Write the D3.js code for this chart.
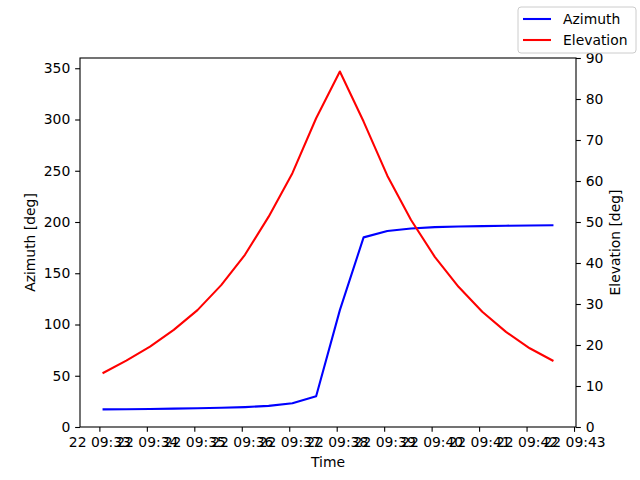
<!DOCTYPE html>
<html>
<head>
<meta charset="utf-8">
<script src="https://cdn.jsdelivr.net/npm/d3@7"></script>
<style>
body { margin: 0; background: #fff; }
text { font-family: "DejaVu Sans", sans-serif; }
</style>
</head>
<body>
<div id="chart"></div>
<script>
// pass times (UTC), one sample every 30 s
var times = ["09:33:04", "09:33:34", "09:34:04", "09:34:34", "09:35:04",
    "09:35:34", "09:36:04", "09:36:34", "09:37:04", "09:37:34",
    "09:38:04", "09:38:34", "09:39:04", "09:39:34", "09:40:04",
    "09:40:34", "09:41:04", "09:41:34", "09:42:04", "09:42:34"];
var azimuth = [17.2, 17.4, 17.6, 17.9, 18.3, 18.7, 19.4, 20.6, 23.2, 30.0,
    114, 185, 191.3, 193.7, 195, 195.6, 196, 196.4, 196.6, 196.8];
var elevation = [13.1, 16.2, 19.6, 23.7, 28.5, 34.6, 42.0, 51.3, 61.9, 75.3,
    86.7, 74.5, 61.3, 50.5, 41.5, 34.2, 28.1, 23.2, 19.2, 16.1];
var azTicks = [0, 50, 100, 150, 200, 250, 300, 350];
var elTicks = [0, 10, 20, 30, 40, 50, 60, 70, 80, 90];
var seriesNames = ["Azimuth", "Elevation"];
var seriesColors = ["#0000ff", "#ff0000"];

var svgWidth = 640;
var svgHeight = 480;
var margin = { top: 58, right: 64, bottom: 53, left: 80 };
var width = svgWidth - margin.left - margin.right;
var height = svgHeight - margin.top - margin.bottom;
var fs = "13.9px";
var lw = 2.08;

var parseT = d3.utcParse("%Y-%m-%d %H:%M:%S");
var data = times.map(function (t, i) {
    return { t: parseT("2024-01-22 " + t), az: azimuth[i], el: elevation[i] };
});

var svg = d3.select("#chart")
    .append("svg")
    .attr("width", svgWidth)
    .attr("height", svgHeight);

var chartGroup = svg.append("g")
    .attr("transform", `translate(${margin.left}, ${margin.top})`);

// 5% padding on x like matplotlib
var tExt = d3.extent(data, d => d.t);
var pad = (tExt[1] - tExt[0]) * 0.05;
var xScale = d3.scaleUtc()
    .domain([new Date(+tExt[0] - pad), new Date(+tExt[1] + pad)])
    .range([0, width]);

var yAz = d3.scaleLinear().domain([0, 360]).range([height, 0]);
var yEl = d3.scaleLinear().domain([0, 90]).range([height, 0]);

var tickLen = 4.86;
var tickPad = 4.86;

var bottomAxis = d3.axisBottom(xScale)
    .ticks(d3.utcMinute.every(1))
    .tickFormat(d3.utcFormat("%d %H:%M"))
    .tickSizeInner(tickLen).tickSizeOuter(0).tickPadding(tickPad);
var leftAxis = d3.axisLeft(yAz).tickValues(azTicks)
    .tickSizeInner(tickLen).tickSizeOuter(0).tickPadding(tickPad);
var rightAxis = d3.axisRight(yEl).tickValues(elTicks)
    .tickSizeInner(tickLen).tickSizeOuter(0).tickPadding(tickPad);

function styleAxis(g) {
    g.selectAll("text").style("font-size", fs).attr("fill", "#000");
    g.selectAll("line").attr("stroke", "#000").attr("stroke-width", 1.1);
    g.select(".domain").remove();
    g.attr("font-family", null);
}

chartGroup.append("g")
    .attr("transform", `translate(0, ${height})`)
    .call(bottomAxis)
    .call(styleAxis);
chartGroup.append("g").call(leftAxis).call(styleAxis);
chartGroup.append("g")
    .attr("transform", `translate(${width}, 0)`)
    .call(rightAxis).call(styleAxis);

// lines
var azLine = d3.line().x(d => xScale(d.t)).y(d => yAz(d.az));
var elLine = d3.line().x(d => xScale(d.t)).y(d => yEl(d.el));

chartGroup.append("path")
    .datum(data)
    .attr("d", azLine)
    .attr("fill", "none")
    .attr("stroke", seriesColors[0])
    .attr("stroke-width", lw)
    .attr("stroke-linejoin", "round");

chartGroup.append("path")
    .datum(data)
    .attr("d", elLine)
    .attr("fill", "none")
    .attr("stroke", seriesColors[1])
    .attr("stroke-width", lw)
    .attr("stroke-linejoin", "round");

// frame
chartGroup.append("rect")
    .attr("width", width)
    .attr("height", height)
    .attr("fill", "none")
    .attr("stroke", "#000")
    .attr("stroke-width", 1.1);

// axis labels
chartGroup.append("text")
    .attr("transform", `translate(${width / 2}, ${height + 40})`)
    .style("font-size", fs)
    .style("text-anchor", "middle")
    .text("Time");

chartGroup.append("text")
    .attr("transform", `translate(${-50}, ${height / 2}) rotate(-90)`)
    .style("font-size", fs)
    .style("text-anchor", "middle")
    .attr("dy", "0.35em")
    .text("Azimuth [deg]");

chartGroup.append("text")
    .attr("transform", `translate(${width + 39}, ${height / 2}) rotate(-90)`)
    .style("font-size", fs)
    .style("text-anchor", "middle")
    .attr("dy", "0.35em")
    .text("Elevation [deg]");

// legend, top right of the figure
var legend = svg.append("g").attr("transform", "translate(518, 7)");
legend.append("rect")
    .attr("width", 118)
    .attr("height", 46)
    .attr("rx", 3)
    .attr("fill", "#fff")
    .attr("fill-opacity", 0.8)
    .attr("stroke", "#cccccc")
    .attr("stroke-width", 1);

seriesNames.forEach(function (name, i) {
    var y = 12 + i * 21;
    legend.append("line")
        .attr("x1", 5).attr("x2", 33)
        .attr("y1", y).attr("y2", y)
        .attr("stroke", seriesColors[i])
        .attr("stroke-width", lw);
    legend.append("text")
        .attr("x", 45).attr("y", y)
        .attr("dy", "0.35em")
        .style("font-size", fs)
        .text(name);
});
</script>
</body>
</html>
